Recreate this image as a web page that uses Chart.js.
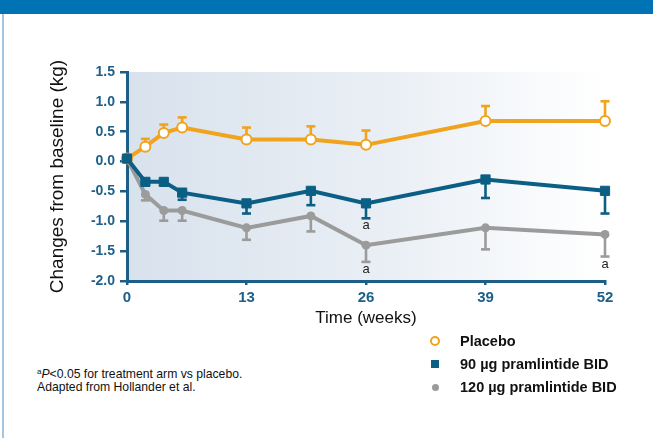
<!DOCTYPE html>
<html>
<head>
<meta charset="utf-8">
<script src="https://cdn.jsdelivr.net/npm/chart.js@4.4.1/dist/chart.umd.min.js"></script>
<style>
  html, body { margin: 0; padding: 0; background: #ffffff; }
  #wrap { position: relative; width: 653px; height: 438px; overflow: hidden; background: #fff; }
  #banner { position: absolute; left: 0; top: 0; width: 653px; height: 14px; background: #0073b4; }
  #leftline { position: absolute; left: 2px; top: 14px; width: 2px; height: 424px; background: #a6c4e2; }
  #chart { position: absolute; left: 0; top: 0; }
  .leg { position: absolute; left: 460px; height: 20px; line-height: 20px; font-family: "Liberation Sans Narrow", "Liberation Sans", sans-serif; font-weight: bold; font-size: 14.5px; color: #111; white-space: nowrap; }
  .mk { position: absolute; box-sizing: border-box; }
  .fn { position: absolute; left: 37px; height: 14px; line-height: 14px; font-family: "Liberation Sans Narrow", "Liberation Sans", sans-serif; font-size: 12.2px; color: #111; white-space: nowrap; }
  .fn sup { font-size: 8px; vertical-align: 4px; line-height: 0; }
</style>
</head>
<body>
<div id="wrap">
  <div id="banner"></div>
  <div id="leftline"></div>
  <canvas id="chart" width="653" height="340"></canvas>

  <div class="mk" style="left:430px; top:336px; width:10px; height:10px; border:2.5px solid #f0a31c; border-radius:50%; background:#fff;"></div>
  <div class="leg" id="leg0" style="top:331px;"></div>
  <div class="mk" style="left:431px; top:360px; width:8px; height:8px; background:#0b5e84;"></div>
  <div class="leg" id="leg1" style="top:354px;"></div>
  <div class="mk" style="left:431.5px; top:383.5px; width:7px; height:7px; border-radius:50%; background:#9b9b9b;"></div>
  <div class="leg" id="leg2" style="top:377px;"></div>

  <div class="fn" style="top:367px;"><sup>a</sup><i>P</i>&lt;0.05 for treatment arm vs placebo.</div>
  <div class="fn" style="top:380px;">Adapted from Hollander et al.</div>
</div>
<script>
// ---- Data ----
const weeks = [0, 2, 4, 6, 13, 20, 26, 39, 52];
const xTicks = [0, 13, 26, 39, 52];
const yTicks = [-2.0, -1.5, -1.0, -0.5, 0.0, 0.5, 1.0, 1.5];
const seriesNames = ["Placebo", "90 \u00b5g pramlintide BID", "120 \u00b5g pramlintide BID"];

const placebo        = [0.05, 0.25, 0.48, 0.57, 0.37, 0.37, 0.28, 0.68, 0.68];
const placeboErrHigh = [null, 0.38, 0.62, 0.74, 0.57, 0.59, 0.52, 0.93, 1.01];

const pram90         = [0.05, -0.34, -0.34, -0.52, -0.70, -0.49, -0.70, -0.30, -0.49];
const pram90ErrLow   = [null, null, null, -0.64, -0.87, -0.73, -0.95, -0.61, -0.87];
const pram90Sig      = ["", "", "", "", "", "", "a", "", ""];

const pram120        = [0.05, -0.55, -0.82, -0.82, -1.11, -0.91, -1.40, -1.11, -1.22];
const pram120ErrLow  = [null, -0.65, -0.99, -0.99, -1.31, -1.17, -1.68, -1.47, -1.59];
const pram120Sig     = ["", "", "", "", "", "", "a", "", "a"];

const placeboSig     = ["", "", "", "", "", "", "", "", ""];

document.getElementById('leg0').textContent = seriesNames[0];
document.getElementById('leg1').textContent = seriesNames[1];
document.getElementById('leg2').textContent = seriesNames[2];

const AXIS = '#1c5e85';
const TICKC = '#1e6089';

function pts(vals) { return weeks.map((w, i) => ({ x: w, y: vals[i] })); }

const bgPlugin = {
  id: 'plotBg',
  beforeDraw(chart) {
    const { ctx, chartArea: a } = chart;
    const g = ctx.createLinearGradient(a.left, 0, a.right, 0);
    g.addColorStop(0, '#d8e2ed');
    g.addColorStop(0.55, '#eaeff5');
    g.addColorStop(1, '#ffffff');
    ctx.save();
    ctx.fillStyle = g;
    ctx.fillRect(a.left, a.top, a.right - a.left, a.bottom - a.top);
    ctx.restore();
  }
};

const errPlugin = {
  id: 'errorBars',
  beforeDatasetsDraw(chart) {
    const { ctx } = chart;
    const xs = chart.scales.x, ys = chart.scales.y;
    ctx.save();
    chart.data.datasets.forEach((ds) => {
      const ends = ds.errEnd;
      if (!ends) return;
      ctx.strokeStyle = ds.borderColor;
      ctx.lineWidth = 2.6;
      ctx.lineCap = 'butt';
      ds.data.forEach((p, i) => {
        if (ends[i] === null || ends[i] === undefined) return;
        const x = xs.getPixelForValue(p.x);
        const y0 = ys.getPixelForValue(p.y);
        const y1 = ys.getPixelForValue(ends[i]);
        ctx.beginPath();
        ctx.moveTo(x, y0);
        ctx.lineTo(x, y1);
        ctx.stroke();
        ctx.beginPath();
        ctx.moveTo(x - 4.5, y1);
        ctx.lineTo(x + 4.5, y1);
        ctx.stroke();
      });
    });
    ctx.restore();
  },
  afterDatasetsDraw(chart) {
    const { ctx } = chart;
    const xs = chart.scales.x, ys = chart.scales.y;
    ctx.save();
    ctx.fillStyle = '#222';
    ctx.font = '13px "Liberation Sans Narrow", "Liberation Sans", sans-serif';
    ctx.textAlign = 'center';
    ctx.textBaseline = 'middle';
    chart.data.datasets.forEach((ds) => {
      if (!ds.sig) return;
      ds.data.forEach((p, i) => {
        if (!ds.sig[i]) return;
        const end = (ds.errEnd && ds.errEnd[i] !== null) ? ds.errEnd[i] : p.y;
        const x = xs.getPixelForValue(p.x);
        const y = ys.getPixelForValue(end) + 7.5;
        ctx.fillText(ds.sig[i], x, y);
      });
    });
    ctx.restore();
  }
};

new Chart(document.getElementById('chart'), {
  type: 'line',
  data: {
    datasets: [
      {
        label: seriesNames[0], data: pts(placebo), errEnd: placeboErrHigh, sig: placeboSig,
        borderColor: '#f0a31c', backgroundColor: '#ffffff', borderWidth: 4,
        pointStyle: 'circle', pointRadius: 5, pointBorderWidth: 2, pointBorderColor: '#f0a31c',
        pointBackgroundColor: '#ffffff', tension: 0, order: 1, clip: false
      },
      {
        label: seriesNames[1], data: pts(pram90), errEnd: pram90ErrLow, sig: pram90Sig,
        borderColor: '#0b5e84', backgroundColor: '#0b5e84', borderWidth: 4,
        pointStyle: 'rect', pointRadius: 6.5, pointBorderWidth: 1, pointBorderColor: '#0b5e84',
        pointBackgroundColor: '#0b5e84', tension: 0, order: 0, clip: false
      },
      {
        label: seriesNames[2], data: pts(pram120), errEnd: pram120ErrLow, sig: pram120Sig,
        borderColor: '#9b9b9b', backgroundColor: '#9b9b9b', borderWidth: 4,
        pointStyle: 'circle', pointRadius: 4.5, pointBorderWidth: 0,
        pointBackgroundColor: '#9b9b9b', tension: 0, order: 2, clip: false
      }
    ]
  },
  options: {
    responsive: false,
    animation: false,
    devicePixelRatio: 1,
    layout: { padding: { left: 0, top: 72, right: 48, bottom: 0 } },
    plugins: { legend: { display: false }, tooltip: { enabled: false } },
    scales: {
      x: {
        type: 'linear', min: 0, max: 52,
        afterBuildTicks(scale) { scale.ticks = xTicks.map(v => ({ value: v })); },
        afterFit(scale) { scale.height = 59; },
        border: { color: AXIS, width: 3 },
        grid: { drawOnChartArea: false, drawTicks: true, tickLength: 4, color: AXIS, lineWidth: 2.5 },
        ticks: {
          padding: 4, color: TICKC, maxRotation: 0,
          font: { family: '"Liberation Sans Narrow", "Liberation Sans", sans-serif', weight: 'bold', size: 15 }
        },
        title: {
          display: true, text: 'Time (weeks)', color: '#111',
          font: { family: '"Liberation Sans", Arial, sans-serif', size: 17 },
          padding: { top: 0, bottom: 11.8 }
        }
      },
      y: {
        type: 'linear', min: -2, max: 1.5,
        afterBuildTicks(scale) { scale.ticks = yTicks.map(v => ({ value: v })); },
        afterFit(scale) { scale.width = 127; },
        border: { color: AXIS, width: 3 },
        grid: { drawOnChartArea: false, drawTicks: true, tickLength: 7, color: AXIS, lineWidth: 2.5 },
        ticks: {
          padding: 5, color: TICKC,
          callback: (v) => Number(v).toFixed(1),
          font: { family: '"Liberation Sans", Arial, sans-serif', weight: 'bold', size: 14 }
        },
        title: {
          display: true, text: 'Changes from baseline (kg)', color: '#111',
          font: { family: '"Liberation Sans", Arial, sans-serif', size: 19 },
          padding: { top: 46, bottom: 0 }
        }
      }
    }
  },
  plugins: [bgPlugin, errPlugin]
});
</script>
</body>
</html>
